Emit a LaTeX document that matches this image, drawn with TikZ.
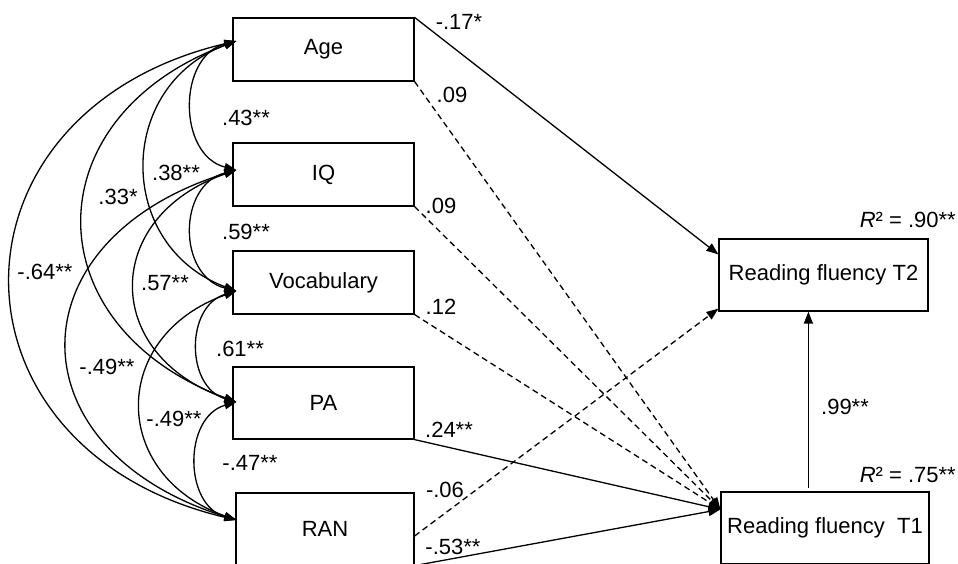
\documentclass[tikz,border=0pt]{standalone}
\usepackage{fontspec}
\setmainfont{Liberation Sans}
\usetikzlibrary{arrows.meta,calc}
\begin{document}
\begin{tikzpicture}[x=1pt,y=-1pt,
  txt/.style={font=\fontsize{22pt}{26pt}\selectfont, inner sep=0pt},
  varbox/.style={draw, line width=1.2pt, inner sep=0pt, font=\fontsize{22pt}{26pt}\selectfont},
  corr/.style={line width=1.3pt, {Triangle[length=12pt,width=8pt]}-{Triangle[length=12pt,width=8pt]}},
  pathsolid/.style={line width=1.3pt, -{Triangle[length=12pt,width=9pt]}},
  pathdash/.style={line width=1.3pt, dash pattern=on 6pt off 4pt, -{Triangle[length=12pt,width=9pt]}}
]
\useasboundingbox (0,0) rectangle (958,563);
\clip (0,0) rectangle (958,563);

% boxes
\node[varbox, minimum width=181pt, minimum height=63pt] (age) at (323.5,49.5) {Age};
\node[varbox, minimum width=181pt, minimum height=63pt] (iq) at (323.5,174.5) {IQ};
\node[varbox, minimum width=181pt, minimum height=63pt] (voc) at (323.5,282.5) {Vocabulary};
\node[varbox, minimum width=181pt, minimum height=72pt] (pa) at (323.5,403) {PA};
\node[varbox, minimum width=178pt, minimum height=72pt] (ran) at (325,529) {RAN};
\node[varbox, minimum width=209pt, minimum height=72pt] (t2) at (823.5,275) {Reading fluency T2};
\node[varbox, minimum width=208pt, minimum height=72pt] (t1) at (825,528) {Reading fluency~ T1};

% arc end points
\coordinate (ageL) at ($(age.west)+(4,-8.5)$);
\coordinate (iqL) at ($(iq.west)+(4,-4.5)$);
\coordinate (vocL) at ($(voc.west)+(4,8.5)$);
\coordinate (paL) at ($(pa.west)+(4,-1)$);
\coordinate (ranL) at ($(ran.west)+(1,-9)$);

% correlation arcs
\draw[corr] (ageL) .. controls +(-59,15) and +(-59,-15) .. (iqL);
\draw[corr] (ageL) .. controls +(-121,45) and +(-121,-45) .. (vocL);
\draw[corr] (ageL) .. controls +(-204,76) and +(-204,-76) .. (paL);
\draw[corr] (ageL) .. controls +(-300,71) and +(-300,-71) .. (ranL);
\draw[corr] (iqL) .. controls +(-59,15) and +(-59,-15) .. (vocL);
\draw[corr] (iqL) .. controls +(-135,47) and +(-135,-47) .. (paL);
\draw[corr] (iqL) .. controls +(-225,70) and +(-225,-70) .. (ranL);
\draw[corr] (vocL) .. controls +(-51,15) and +(-51,-15) .. (paL);
\draw[corr] (vocL) .. controls +(-127,45) and +(-127,-45) .. (ranL);
\draw[corr] (paL) .. controls +(-53,15) and +(-53,-15) .. (ranL);

% correlation labels
\node[txt] (l43) at (246,118) {.43**};
\node[txt] (l59) at (246,232) {.59**};
\node[txt] (l61) at (240,349) {.61**};
\node[txt] (l47) at (250,463) {-.47**};
\node[txt] (l38) at (176,173) {.38**};
\node[txt] (l33) at (118,197) {.33*};
\node[txt] (l64) at (45,272) {-.64**};
\node[txt] (l57) at (165,283) {.57**};
\node[txt] (l49a) at (107,367) {-.49**};
\node[txt] (l49b) at (174,419) {-.49**};

% path end points
\coordinate (t2a) at ($(t2.north west)+(0,16)$);
\coordinate (t2b) at ($(t2.south west)+(0,-3)$);
\coordinate (t1a) at ($(t1.north west)+(0,18)$);
\coordinate (ranE) at ($(ran.east)+(0,7)$);
\coordinate (t1up) at ($(t1.north west)+(88,-3)$);

% paths
\draw[pathsolid] (age.north east) -- (t2a);
\draw[pathdash] (age.south east) -- (t1a);
\draw[pathdash] (iq.south east) -- (t1a);
\draw[pathdash] (voc.south east) -- (t1a);
\draw[pathsolid] (pa.south east) -- (t1a);
\draw[pathdash] (ranE) -- (t2b);
\draw[pathsolid] (ran.south east) -- (t1a);
\draw[pathsolid] (t1up) -- (t1up |- t2.south);

% path labels
\node[txt] (p17) at (459,22) {-.17*};
\node[txt] (p09a) at (452,95) {.09};
\node[txt] (p09b) at (441,206) {.09};
\node[txt] (p12) at (441,307) {.12};
\node[txt] (p24) at (449,430) {.24**};
\node[txt] (p06) at (445,490) {-.06};
\node[txt] (p53) at (453,547) {-.53**};
\node[txt] (p99) at (845,407) {.99**};
\node[txt, anchor=east] (r2a) at (956,220) {\textit{R}² = .90**};
\node[txt, anchor=east] (r2b) at (956,475) {\textit{R}² = .75**};
\end{tikzpicture}
\end{document}
